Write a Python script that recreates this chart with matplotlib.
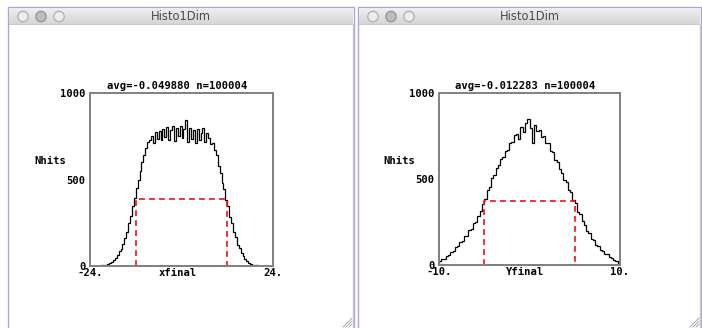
import numpy as np
import matplotlib
matplotlib.use('Agg')
import matplotlib.pyplot as plt
from matplotlib.patches import Rectangle, Circle

# ---- data ----
x_range = [-24, 24]
x_counts = [0, 0, 0, 0, 1, 2, 3, 5, 8, 11,
            15, 21, 33, 45, 62, 84, 101, 128, 160, 196,
            248, 290, 345, 392, 448, 497, 552, 601, 642, 683,
            718, 728, 752, 712, 772, 735, 781, 726, 790, 748,
            802, 731, 786, 812, 720, 796, 752, 808, 741, 794,
            842, 718, 798, 735, 785, 712, 792, 728, 770, 798,
            716, 768, 742, 705, 712, 668, 640, 578, 540, 480,
            446, 382, 348, 284, 248, 195, 165, 122, 102, 74,
            60, 40, 31, 18, 13, 7, 5, 3, 2, 1,
            0, 0, 0, 0, 0, 0]
x_box = [-12, 12, 390]

y_range = [-10, 10]
y_counts = [22, 34, 36, 52, 56, 74, 84, 102, 108, 132,
            138, 166, 170, 202, 208, 242, 252, 285, 312, 352,
            382, 436, 456, 508, 522, 564, 580, 618, 626, 660,
            670, 708, 716, 755, 762, 735, 800, 772, 826, 846,
            798, 712, 815, 778, 782, 745, 750, 708, 712, 660,
            656, 612, 596, 560, 536, 492, 484, 438, 426, 378,
            358, 310, 296, 256, 232, 198, 186, 154, 148, 118,
            112, 88, 84, 64, 62, 44, 42, 28, 24, 12]
y_box = [-5, 5, 372]

titles = ['avg=-0.049880 n=100004', 'avg=-0.012283 n=100004']
xlabels = ['xfinal', 'Yfinal']
xticklabels = [['-24.', '24.'], ['-10.', '10.']]

W, H = 702, 328
fig = plt.figure(figsize=(W / 100, H / 100), dpi=100)


def px(x, y, w, h):
    # pixel box (top-left origin) -> figure fraction
    return [x / W, 1 - (y + h) / H, w / W, h / H]


def window(x0, x1):
    # white window with purple border
    fig.add_artist(Rectangle((x0 / W, -0.01), (x1 - x0) / W, 1 - 7 / H + 0.01,
                             transform=fig.transFigure, facecolor='white',
                             edgecolor='#a6a6e4', lw=1.0, zorder=-10))
    # title bar
    bar = fig.add_axes(px(x0 + 1, 8, x1 - x0 - 2, 17))
    grad = np.linspace(0, 1, 32).reshape(-1, 1)
    bar.imshow(grad, cmap=matplotlib.colors.LinearSegmentedColormap.from_list(
        'tb', ['#f0f0f0', '#d4d4d4']), aspect='auto',
        extent=[0, x1 - x0 - 2, 17, 0])
    bar.set_xlim(0, x1 - x0 - 2)
    bar.set_ylim(17, 0)
    bar.axhline(16.6, color='#a8a8a8', lw=1)
    for cx, fc, ec in [(14, '#ececec', '#a8a8a8'), (32, '#bdbdbd', '#8c8c8c'),
                       (50, '#ececec', '#a8a8a8')]:
        bar.add_patch(Circle((cx, 8.5), 5.2, facecolor=fc, edgecolor=ec, lw=0.8))
    bar.text((x1 - x0 - 2) / 2, 8.8, 'Histo1Dim', ha='center', va='center',
             fontsize=8.3, color='#4a4a4a', family='DejaVu Sans')
    bar.axis('off')
    # resize grip
    for d in (3, 6, 9):
        fig.add_artist(plt.Line2D([(x1 - 2 - d) / W, (x1 - 2) / W],
                                  [1 / H, (1 + d) / H],
                                  transform=fig.transFigure, color='#9a9a9a',
                                  lw=0.6, zorder=-5))
    # right edge gray line
    fig.add_artist(plt.Line2D([(x1 - 1) / W, (x1 - 1) / W], [0, 1 - 25 / H],
                              transform=fig.transFigure, color='#c8c8c8',
                              lw=1, zorder=-5))


window(8, 354)
window(358, 701)

mono = dict(family='DejaVu Sans Mono', weight='bold', fontsize=7.6)

panels = [
    (px(90, 93, 183, 173), x_range, x_counts, x_box),
    (px(439, 93, 181, 172), y_range, y_counts, y_box),
]

for k, (pos, rng, counts, box) in enumerate(panels):
    ax = fig.add_axes(pos)
    ax.patch.set_alpha(0)
    edges = np.linspace(rng[0], rng[1], len(counts) + 1)
    ax.stairs(counts, edges, color='black', lw=0.9)
    bx0, bx1, bh = box
    ax.plot([bx0, bx0, bx1, bx1, bx0], [0, bh, bh, 0, 0], color='#ee1111',
            lw=1.2, dashes=(3.5, 2.5), clip_on=False)
    ax.set_xlim(rng)
    ax.set_ylim(0, 1000)
    for s in ax.spines.values():
        s.set_color('#808080')
        s.set_linewidth(1.4)
    ax.set_yticks([0, 500, 1000])
    ax.set_yticklabels(['0', '500', '1000'], **mono)
    ax.set_yticks([500], minor=True)
    ax.tick_params(axis='y', which='major', length=0, pad=3)
    ax.tick_params(axis='y', which='minor', length=6, width=1, color='black',
                   direction='inout', left=True, right=True)
    ax.set_xticks(rng)
    ax.set_xticklabels(xticklabels[k], **mono)
    ax.tick_params(axis='x', length=0, pad=1.5)
    ax.text(0.478, -0.012, xlabels[k], transform=ax.transAxes, ha='center',
            va='top', **mono)
    ax.text(0.478, 1.012, titles[k], transform=ax.transAxes, ha='center',
            va='bottom', **mono)
    ax.text(-24 / (pos[2] * W), 0.607, 'Nhits', transform=ax.transAxes,
            ha='right', va='center', **mono)

fig.savefig('out.png', dpi=100)
